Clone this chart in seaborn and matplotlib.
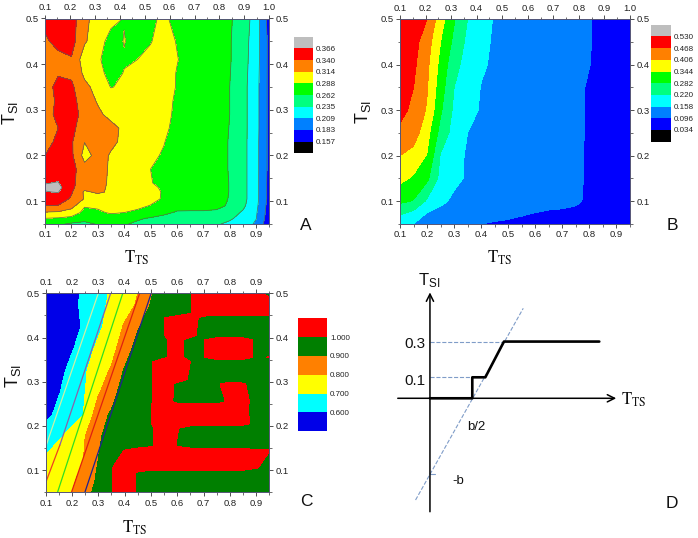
import matplotlib
matplotlib.use("Agg")
import matplotlib.pyplot as plt
from matplotlib.colors import ListedColormap
from matplotlib.ticker import MultipleLocator
import numpy as np
import pandas as pd
import seaborn as sns

# grid positions
x_grid = [.10, .15, .20, .25, .30, .35, .40, .45, .50, .55, .60, .65, .70, .75, .80, .85, .90, .95]

y_a = [.05, .0625, .075, .09, .105, .12, .13, .14, .17, .20, .23, .26, .29, .32, .35, .38, .41, .45, .50]
z_a = [
    [.272, .266, .258, .255, .264, .268, .264, .258, .252, .248, .246, .244, .241, .237, .231, .222, .205, .165],
    [.288, .286, .282, .272, .276, .276, .272, .265, .260, .254, .252, .250, .248, .245, .238, .228, .210, .168],
    [.312, .310, .302, .281, .284, .291, .288, .283, .276, .268, .259, .259, .259, .256, .245, .232, .212, .170],
    [.340, .339, .324, .290, .292, .300, .298, .294, .287, .279, .272, .270, .270, .270, .258, .240, .215, .172],
    [.355, .352, .337, .312, .300, .304, .306, .303, .296, .285, .278, .276, .275, .274, .260, .243, .217, .175],
    [.365, .367, .343, .310, .318, .310, .310, .305, .299, .285, .280, .277, .276, .275, .261, .243, .217, .175],
    [.369, .374, .346, .322, .320, .310, .309, .304, .295, .283, .279, .277, .276, .275, .261, .243, .217, .175],
    [.365, .367, .346, .326, .322, .310, .308, .302, .290, .278, .278, .277, .276, .275, .261, .243, .217, .175],
    [.352, .356, .350, .323, .325, .310, .305, .298, .288, .279, .277, .276, .275, .274, .260, .243, .217, .176],
    [.340, .352, .345, .305, .322, .312, .303, .296, .292, .286, .279, .277, .276, .274, .260, .243, .217, .176],
    [.332, .345, .343, .3145, .326, .318, .310, .300, .294, .289, .279, .277, .276, .274, .260, .243, .217, .176],
    [.330, .340, .347, .326, .325, .320, .310, .302, .296, .293, .281, .278, .277, .275, .261, .243, .218, .176],
    [.332, .345, .352, .330, .318, .308, .302, .298, .296, .294, .284, .279, .277, .275, .262, .243, .218, .176],
    [.332, .343, .350, .325, .312, .303, .295, .295, .296, .295, .285, .279, .277, .275, .262, .243, .218, .176],
    [.330, .347, .345, .320, .306, .287, .292, .293, .295, .296, .287, .279, .278, .275, .262, .243, .218, .176],
    [.325, .338, .335, .309, .296, .280, .289, .292, .296, .298, .287, .279, .278, .275, .263, .244, .219, .176],
    [.325, .330, .338, .300, .293, .272, .286, .288, .293, .299, .289, .280, .278, .275, .264, .245, .220, .176],
    [.335, .350, .350, .317, .300, .278, .289, .278, .287, .296, .287, .280, .278, .275, .264, .246, .221, .176],
    [.349, .358, .352, .320, .304, .296, .287, .281, .285, .291, .283, .280, .278, .275, .265, .250, .222, .172],
]

y_b = [.05, .075, .10, .15, .20, .25, .30, .35, .40, .45, .50]
z_b = [
    [.172, .158, .145, .130, .118, .107, .096, .090, .088, .087, .086, .085, .085, .084, .083, .082, .080, .078],
    [.233, .205, .158, .143, .133, .127, .122, .116, .108, .100, .096, .090, .090, .090, .087, .085, .082, .080],
    [.293, .278, .210, .170, .147, .140, .137, .134, .130, .125, .120, .115, .108, .100, .091, .087, .084, .080],
    [.360, .335, .295, .200, .170, .152, .147, .143, .136, .130, .122, .115, .109, .101, .092, .088, .084, .080],
    [.406, .385, .340, .215, .175, .152, .148, .144, .136, .130, .122, .115, .109, .101, .092, .088, .084, .080],
    [.455, .435, .365, .260, .195, .158, .150, .145, .137, .130, .122, .115, .109, .101, .093, .088, .084, .080],
    [.485, .455, .400, .290, .208, .172, .154, .146, .138, .130, .123, .116, .110, .102, .093, .088, .084, .080],
    [.500, .468, .410, .310, .220, .185, .156, .147, .139, .132, .124, .117, .110, .102, .093, .088, .084, .080],
    [.510, .480, .420, .325, .240, .195, .165, .150, .140, .133, .125, .118, .110, .102, .0965, .090, .085, .080],
    [.520, .490, .435, .344, .267, .205, .170, .152, .143, .135, .128, .120, .113, .104, .097, .090, .085, .080],
    [.520, .500, .468, .370, .287, .219, .183, .153, .145, .140, .130, .125, .115, .105, .097, .090, .085, .080],
]

# panel C: the sloped bands below 0.9
y_c = [.05, .075, .125, .175, .225, .275, .325, .375, .425, .475, .50]
z_c = [
    [.72, .75, .80, .87, .93, .96, .96, .96, .96, .96, .96, .96, .96, .96, .96, .96, .96, .96],
    [.73, .76, .785, .845, .92, .96, .96, .96, .96, .96, .96, .96, .96, .96, .96, .96, .96, .96],
    [.71, .75, .78, .803, .90, .96, .96, .96, .96, .96, .96, .96, .96, .96, .96, .96, .96, .96],
    [.66, .69, .73, .80, .89, .93, .95, .96, .96, .96, .96, .96, .96, .96, .96, .96, .96, .96],
    [.57, .63, .67, .705, .87, .91, .94, .96, .96, .96, .96, .96, .96, .96, .96, .96, .96, .96],
    [.52, .595, .65, .70, .79, .87, .94, .96, .96, .96, .96, .96, .96, .96, .96, .96, .96, .96],
    [.50, .56, .64, .69, .76, .81, .91, .95, .96, .96, .96, .96, .96, .96, .96, .96, .96, .96],
    [.48, .54, .59, .66, .72, .77, .85, .94, .96, .96, .96, .96, .96, .96, .96, .96, .96, .96],
    [.47, .52, .58, .61, .68, .74, .81, .89, .95, .96, .96, .96, .96, .96, .96, .96, .96, .96],
    [.47, .52, .58, .62, .67, .72, .76, .81, .905, .96, .96, .96, .96, .96, .96, .96, .96, .96],
    [.47, .52, .58, .615, .67, .71, .75, .80, .89, .96, .96, .96, .96, .96, .96, .96, .96, .96],
]

# panel C: the blocky part at 1.0 and above, edges of each block in y
y_red = [.05, .095, .105, .145, .155, .195, .205, .245, .255, .295, .305, .345, .355, .395, .405, .445, .455, .50]
z_red = [
    [.96, .96, .96, .96, .96, .998, 1.02, .995, .96, .96, .96, .96, .96, .96, .96, .96, .96, .96],
    [.96, .96, .96, .96, .96, .998, 1.02, .995, .96, .96, .96, .96, .96, .96, .96, .96, .96, .96],
    [.96, .96, .96, .96, .96, .998, 1.03, 1.04, 1.04, 1.04, 1.04, 1.04, 1.04, 1.04, 1.04, 1.04, 1.005, .97],
    [.96, .96, .96, .96, .96, .96, 1.002, 1.04, 1.04, 1.04, 1.04, 1.04, 1.04, 1.04, 1.04, 1.04, 1.005, 1.003],
    [.96, .96, .96, .96, .96, .96, .96, .96, .99, 1.04, .995, .96, .96, .96, .96, .96, .96, .96],
    [.96, .96, .96, .96, .96, .96, .96, .96, .99, 1.04, 1.005, .96, .96, .96, .96, .96, .96, .96],
    [.96, .96, .96, .96, .96, .96, .96, .96, .998, 1.04, 1.04, 1.04, 1.04, 1.04, 1.04, 1.02, .98, .96],
    [.96, .96, .96, .96, .96, .96, .96, .96, .998, 1.04, 1.04, 1.04, 1.04, 1.04, 1.04, 1.02, .97, .96],
    [.96, .96, .96, .96, .96, .96, .96, .96, .995, 1.04, .98, .96, .96, .96, 1.02, 1.03, .97, .96],
    [.96, .96, .96, .96, .96, .96, .96, .96, .995, 1.04, .985, .96, .96, .99, 1.03, 1.01, .96, .96],
    [.96, .96, .96, .96, .96, .96, .96, .96, .995, 1.04, 1.03, .99, .96, .96, .96, .96, .96, .96],
    [.96, .96, .96, .96, .96, .96, .96, .96, .995, 1.04, 1.03, 1.0, .96, .96, .96, .96, .96, .96],
    [.96, .96, .96, .96, .96, .96, .96, .96, .96, .99, 1.03, .97, .998, 1.03, 1.03, 1.03, .99, 1.003],
    [.96, .96, .96, .96, .96, .96, .96, .96, .96, .99, 1.03, .97, .998, 1.03, 1.03, 1.03, .99, .96],
    [.96, .96, .96, .96, .96, .96, .96, .96, .96, .998, 1.03, 1.03, .96, .96, .96, .96, .96, .96],
    [.96, .96, .96, .96, .96, .96, .96, .96, .96, .998, 1.03, 1.03, .98, .96, .96, .96, .96, .96],
    [.96, .96, .96, .96, .96, .96, .96, .96, .96, .96, .96, .998, 1.04, 1.04, 1.04, 1.04, 1.04, 1.04],
    [.96, .96, .96, .96, .96, .96, .96, .96, .96, .96, .96, .998, 1.04, 1.04, 1.04, 1.03, 1.01, .99],
]

levels_a = [0.157, 0.183, 0.209, 0.235, 0.262, 0.288, 0.314, 0.340, 0.366]
levels_b = [0.034, 0.096, 0.158, 0.220, 0.282, 0.344, 0.406, 0.468, 0.530]
levels_c = [0.600, 0.700, 0.800, 0.900, 1.000]

# bottom band first
colors_ab = ["#000000", "#0000ff", "#0080ff", "#00ffff", "#00ff80", "#00ff00", "#ffff00", "#ff8000", "#ff0000", "#bebebe"]
colors_c = ["#0000e8", "#00ffff", "#ffff00", "#ff8000", "#007f00", "#ff0000"]

# lines over panel C: x, y and colour of each
c_lines = [
    ([.10, .30], [.153, .50], "#c8f0a8"),
    ([.10, .154], [.072, .157], "#f04020"),
    ([.154, .347], [.157, .50], "#8a62a8"),
    ([.145, .393], [.05, .50], "#30e020"),
    ([.198, .457], [.05, .50], "#e02010"),
    ([.249, .501], [.05, .50], "#202090"),
]

# panel D schematic
step_x = [0, .25, .25, .327, .437, 1.0]
step_y = [0, 0, .111, .111, .30, .30]
slope_x = [-.085, .551]
slope_y = [-.538, .476]

sns.set_theme(style="ticks")
plt.rcParams['font.family'] = ['Liberation Sans', 'DejaVu Sans']
plt.rcParams['mathtext.fontset'] = 'custom'
plt.rcParams['mathtext.rm'] = 'Liberation Sans'

W, H = 698, 538
fig = plt.figure(figsize=(W / 100, H / 100), dpi=100)


def px_axes(left, top, right, bottom):
    return fig.add_axes([left / W, 1 - bottom / H, (right - left) / W, (bottom - top) / H])


def px_text(x, y, s, **kw):
    fig.text(x / W, 1 - y / H, s, ha='center', va='center', **kw)


def contour_panel(box, ys, z, levels, colors, top_max, edge, top_ticks):
    ax = px_axes(*box)
    bounds = [-1] + levels + [9]
    ax.contourf(x_grid, ys, np.array(z), levels=bounds, colors=colors)
    if edge:
        ax.contour(x_grid, ys, np.array(z), levels=levels, colors=edge, linewidths=0.5)
    ax.set_xlim(.1, .95)
    ax.set_ylim(.05, .5)
    ax.set_xticks(np.arange(.1, .91, .1))
    ax.set_yticks(np.arange(.1, .51, .1))
    ax.xaxis.set_minor_locator(MultipleLocator(.05))
    ax.yaxis.set_minor_locator(MultipleLocator(.05))
    ax.tick_params(which='major', labelsize=6.8, length=3, width=.6, pad=1.5, color='#333333', labelcolor='#222222')
    ax.tick_params(which='minor', length=1.8, width=.5, color='#333333')
    ax.tick_params(axis='y', right=True, labelright=True, which='both')
    top = ax.twiny()
    top.set_xlim(.1, top_max)
    top.set_xticks(top_ticks)
    top.xaxis.set_minor_locator(MultipleLocator(.05))
    top.tick_params(which='major', labelsize=6.8, length=3, width=.6, pad=1.5, color='#333333', labelcolor='#222222')
    top.tick_params(which='minor', length=1.8, width=.5, color='#333333')
    for a in (ax, top):
        for s in a.spines.values():
            s.set_linewidth(.6)
            s.set_color('#555577')
    ax.set_xticklabels([f"{t:.1f}" for t in ax.get_xticks()])
    ax.set_yticklabels([f"{t:.1f}" for t in ax.get_yticks()])
    top.set_xticklabels([f"{t:.1f}" for t in top_ticks])
    return ax


def legend_boxes(box, colors, labels):
    cax = px_axes(*box)
    n = len(colors)
    cells = np.arange(n).reshape(-1, 1)
    sns.heatmap(cells, ax=cax, cmap=ListedColormap(colors), cbar=False, xticklabels=False)
    cax.set_yticks(np.arange(1, n))
    cax.set_yticklabels(labels, rotation=0)
    cax.yaxis.tick_right()
    cax.tick_params(axis='y', length=0, labelsize=5.8, pad=2.5, labelcolor='#222222')


top_a = np.arange(.1, 1.01, .1)
ax_a = contour_panel((45, 18.5, 269.3, 224), y_a, z_a, levels_a, colors_ab, 1.0, '#556655', top_a)
ax_b = contour_panel((400, 19, 630, 224), y_b, z_b, levels_b, colors_ab, 1.0, None, top_a)
ax_c = contour_panel((45.7, 293.3, 269.3, 492.3), y_c, z_c, levels_c[:-1], colors_c[:-1], .95, None, np.arange(.1, .91, .1))
ax_c.contourf(x_grid, y_red, np.array(z_red), levels=[levels_c[-1], 9], colors=[colors_c[-1]])

for xs, ys, col in c_lines:
    line_df = pd.DataFrame({'x': xs, 'y': ys})
    sns.lineplot(data=line_df, x='x', y='y', ax=ax_c, color=col, linewidth=.9, estimator=None, sort=False)
ax_c.set_xlabel('')
ax_c.set_ylabel('')
ax_c.set_xlim(.1, .95)
ax_c.set_ylim(.05, .5)

legend_boxes((294, 36.7, 312.7, 153.3), colors_ab[::-1], [f"{v:.3f}" for v in levels_a[::-1]])
legend_boxes((651, 24.7, 670.7, 141.7), colors_ab[::-1], [f"{v:.3f}" for v in levels_b[::-1]])
legend_boxes((298.3, 318.3, 326.7, 431.3), colors_c[::-1], [f"{v:.3f}" for v in levels_c[::-1]])

ts_label = r"$\mathrm{T_{TS}}$"
si_label = r"$\mathrm{T_{SI}}$"
for px, py in [(137, 258), (500, 258), (135, 528)]:
    px_text(px, py, ts_label, fontsize=12, math_fontfamily='stix', color='#111111')
for px, py in [(10, 113), (363, 112), (13, 376)]:
    px_text(px, py, si_label, fontsize=13, rotation=90, color='#111111')
for px, py, s in [(306, 225, 'A'), (672, 225, 'B'), (306, 502, 'C'), (672, 503, 'D')]:
    px_text(px, py, s, fontsize=12.5, color='#111111')

# panel D
ax_d = px_axes(380, 265, 698, 538)
dash = dict(color='#7f9cc8', linewidth=.8, linestyle='--', estimator=None, sort=False)
sns.lineplot(x=slope_x, y=slope_y, ax=ax_d, **dash)
sns.lineplot(x=[0, .437], y=[.30, .30], ax=ax_d, **dash)
sns.lineplot(x=[0, .25], y=[.111, .111], ax=ax_d, **dash)
sns.lineplot(x=[0, .03], y=[-.402, -.402], ax=ax_d, color='#7f9cc8', linewidth=.8, estimator=None, sort=False)
sns.lineplot(x=step_x, y=step_y, ax=ax_d, color='black', linewidth=1.9, estimator=None, sort=False)
ax_d.annotate('', xy=(1.1, 0), xytext=(-.19, 0), arrowprops=dict(arrowstyle='->', color='black', lw=1.1, mutation_scale=13, shrinkA=0, shrinkB=0))
ax_d.annotate('', xy=(0, .56), xytext=(0, -.6), arrowprops=dict(arrowstyle='->', color='black', lw=1.1, mutation_scale=13, shrinkA=0, shrinkB=0))
ax_d.set_xlim(-.295, 1.583)
ax_d.set_ylim(-.739, .705)
ax_d.axis('off')

px_text(415, 344, '0.3', fontsize=11, color='#111111')
px_text(415, 381, '0.1', fontsize=11, color='#111111')
px_text(476, 427, 'b/2', fontsize=9.5, color='#111111')
px_text(458, 481, '-b', fontsize=9.5, color='#111111')
px_text(429, 281, si_label, fontsize=12, color='#111111')
px_text(634, 400, ts_label, fontsize=12, math_fontfamily='stix', color='#111111')

fig.savefig('out.png', dpi=100)
